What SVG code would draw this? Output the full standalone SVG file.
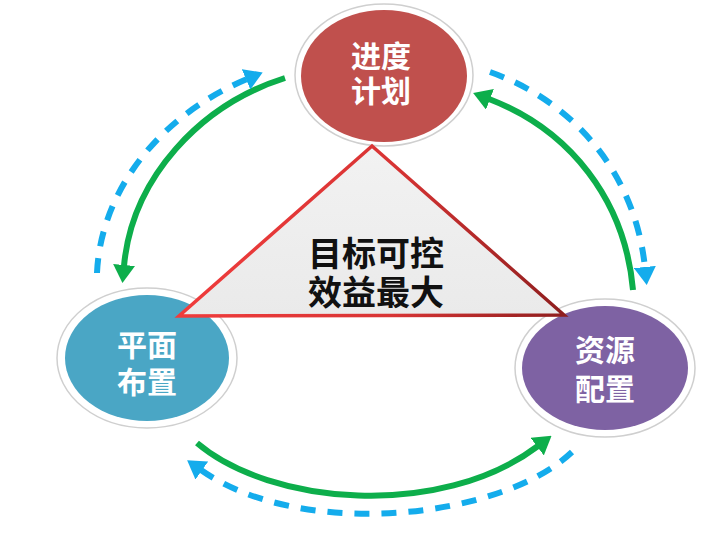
<svg xmlns="http://www.w3.org/2000/svg" width="720" height="540" viewBox="0 0 720 540">
<defs>
<linearGradient id="triStroke" gradientUnits="userSpaceOnUse" x1="180" y1="0" x2="565" y2="0">
<stop offset="0" stop-color="#F03C3C"/>
<stop offset="0.55" stop-color="#D83434"/>
<stop offset="1" stop-color="#8E1E1E"/>
</linearGradient>
<linearGradient id="triFill" x1="0" y1="0" x2="0" y2="1">
<stop offset="0" stop-color="#F2F2F2"/>
<stop offset="1" stop-color="#EAEAEA"/>
</linearGradient>
<marker id="gHead" markerUnits="userSpaceOnUse" viewBox="0 0 18 22" refX="1" refY="11" markerWidth="18" markerHeight="22" orient="auto">
<path d="M0,0 L18,11 L0,22 z" fill="#0DAE4B"/>
</marker>
<marker id="bHead" markerUnits="userSpaceOnUse" viewBox="0 0 18 22" refX="1" refY="11" markerWidth="18" markerHeight="22" orient="auto">
<path d="M0,0 L18,11 L0,22 z" fill="#14ACEC"/>
</marker>
</defs>
<style>
.ring{fill:#FFFFFF;stroke:#CFCFCF;stroke-width:1.5}
.wtxt{font-family:"Liberation Sans","Noto Sans CJK SC","Noto Sans CJK JP",sans-serif;font-weight:700;fill:#FFFFFF;text-anchor:middle}
.btxt{font-family:"Liberation Sans","Noto Sans CJK SC","Noto Sans CJK JP",sans-serif;font-weight:700;fill:#111111;text-anchor:middle}
.green{fill:none;stroke:#0DAE4B;stroke-width:6;marker-end:url(#gHead)}
.blue{fill:none;stroke:#14ACEC;stroke-width:6;stroke-dasharray:15 12;marker-end:url(#bHead)}
</style>
<rect width="720" height="540" fill="#FFFFFF"/>
<g id="connectors">
<path class="green" d="M285,78 C200,105 132,178 124,266"/>
<path class="blue" d="M97,273 C100,200 150,120 247,79"/>
<path class="green" d="M633,290 C625,200 570,130 489,99"/>
<path class="blue" d="M490,72 C570,100 635,170 645,268"/>
<path class="green" d="M197,443 C270,505 440,520 538,446"/>
<path class="blue" d="M572,452 C500,520 300,540 201,470"/>
</g>
<g id="node-schedule">
<ellipse class="ring" cx="384" cy="75" rx="89" ry="71"/>
<ellipse cx="384" cy="76" rx="83" ry="66" fill="#C0504D"/>
<text class="wtxt" font-size="30"><tspan x="381" y="67">进度</tspan><tspan x="381" y="102">计划</tspan></text>
</g>
<g id="node-layout">
<ellipse class="ring" cx="147" cy="358" rx="90" ry="70"/>
<ellipse cx="147" cy="358" rx="82" ry="63" fill="#4AA6C5"/>
<text class="wtxt" font-size="30"><tspan x="147" y="356">平面</tspan><tspan x="147" y="393">布置</tspan></text>
</g>
<g id="node-resource">
<ellipse class="ring" cx="605" cy="368" rx="90" ry="69"/>
<ellipse cx="605" cy="368" rx="83" ry="62" fill="#7E62A3"/>
<text class="wtxt" font-size="30"><tspan x="605" y="361">资源</tspan><tspan x="605" y="400">配置</tspan></text>
</g>
<g id="node-goal">
<polygon points="372,146 564,315 179,316" fill="url(#triFill)" stroke="url(#triStroke)" stroke-width="3.5" stroke-linejoin="miter"/>
<text class="btxt" font-size="34"><tspan x="376" y="266">目标可控</tspan><tspan x="376" y="305">效益最大</tspan></text>
</g>
</svg>
